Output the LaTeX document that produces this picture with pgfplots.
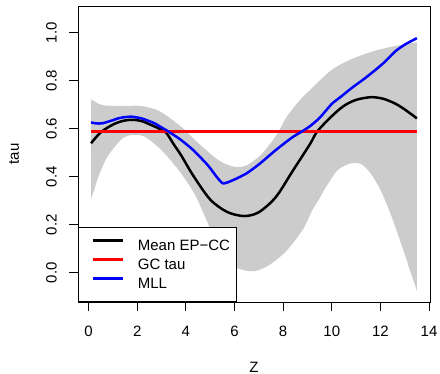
\documentclass[border=0pt]{standalone}
\usepackage{fontspec}
\setmainfont{Liberation Sans}
\usepackage{pgfplots}
\pgfplotsset{compat=1.18}
\usepgfplotslibrary{fillbetween}
\definecolor{bandgray}{HTML}{CCCCCC}
\begin{document}
\fontsize{15}{18}\selectfont
\begin{tikzpicture}
\begin{axis}[
  at={(0,0)}, anchor=south west,
  scale only axis, width=352pt, height=296pt,
  xmin=-0.436, xmax=14.04, ymin=-0.122, ymax=1.111,
  axis line style={line width=0.8pt},
  xtick={0,2,4,6,8,10,12,14}, ytick={0,0.2,0.4,0.6,0.8,1.0},
  yticklabel={\pgfmathprintnumber[fixed,fixed zerofill,precision=1]{\tick}},
  /pgf/number format/assume math mode=true,
  tick align=outside, xtick pos=bottom, ytick pos=left,
  major tick length=9pt,
  tick style={line width=0.8pt, black},
  xticklabel shift=10pt, yticklabel shift=7pt,
  xticklabel style={anchor=north, font=\fontsize{15}{18}\selectfont},
  yticklabel style={rotate=90, anchor=south, font=\fontsize{15}{18}\selectfont},
  xlabel={Z}, ylabel={tau},
  xlabel style={at={(axis description cs:0.5,-0.2196)}, anchor=center, font=\fontsize{15}{18}\selectfont},
  ylabel style={at={(axis description cs:-0.1818,0.5)}, anchor=center, rotate=0, font=\fontsize{15}{18}\selectfont},
  legend style={at={(0,0)}, anchor=south west, draw=black, line width=0.8pt,
    inner xsep=6pt, inner ysep=9.6pt, row sep=2pt, column sep=14pt,
    font=\fontsize{15}{18}\selectfont,
    nodes={inner sep=0pt, text height=14pt, text depth=3pt}},
  legend image code/.code={\path (0pt,0pt); \draw[#1] (7pt,5pt) -- (37pt,5pt);},
  legend cell align=left,
]
\addplot[name path=up, draw=none, smooth, tension=0.5, forget plot] coordinates {
(0.1,0.722) (0.5,0.700) (0.9,0.695) (1.5,0.695) (2.1,0.695) (2.6,0.685) (2.95,0.671)
(3.4,0.640) (3.9,0.600) (4.4,0.550) (4.9,0.505) (5.3,0.472) (5.7,0.450) (6.1,0.440)
(6.5,0.447) (7.05,0.487) (7.45,0.535) (7.8,0.585) (8.15,0.650) (8.7,0.720) (9.2,0.770)
(9.5,0.800) (10.0,0.845) (10.6,0.880) (11.2,0.905) (11.8,0.925) (12.5,0.942) (13.5,0.960)};
\addplot[name path=lo, draw=none, smooth, tension=0.5, forget plot] coordinates {
(0.1,0.310) (0.2,0.335) (0.4,0.400) (0.7,0.470) (1.0,0.515) (1.4,0.560) (1.8,0.574)
(2.3,0.567) (2.9,0.520) (3.4,0.465) (3.9,0.400) (4.4,0.320) (4.8,0.230) (5.2,0.140)
(5.6,0.065) (6.0,0.025) (6.5,0.008) (6.9,0.008) (7.4,0.030) (8.1,0.087) (8.8,0.178)
(9.2,0.260) (9.5,0.310) (9.75,0.355) (10.25,0.428) (10.8,0.456) (11.2,0.453) (11.6,0.414)
(12.0,0.345) (12.4,0.250) (12.85,0.122) (13.25,0.000) (13.5,-0.075)};
\addplot[bandgray, forget plot] fill between[of=up and lo];
\addplot[black, line width=2.5pt, smooth, tension=0.5] coordinates {
(0.1,0.539) (0.5,0.585) (1.0,0.617) (1.4,0.632) (1.8,0.637) (2.2,0.631) (2.6,0.614)
(2.95,0.598) (3.2,0.582) (3.5,0.535) (3.8,0.490) (4.3,0.405) (5.0,0.305) (5.7,0.253)
(6.4,0.236) (7.0,0.252) (7.7,0.315) (8.4,0.425) (9.1,0.535) (9.4,0.588) (10.0,0.652)
(10.5,0.695) (11.0,0.720) (11.6,0.731) (12.1,0.725) (12.6,0.705) (13.0,0.680) (13.5,0.643)};
\addlegendentry{Mean EP−CC}
\addplot[red, line width=2.5pt] coordinates {(0.1,0.5875) (13.5,0.5875)};
\addlegendentry{GC tau}
\addplot[blue, line width=2.5pt, smooth, tension=0.4] coordinates {
(0.1,0.626) (0.3,0.622) (0.55,0.622) (0.9,0.632) (1.3,0.645) (1.75,0.650) (2.2,0.642)
(2.7,0.623) (2.95,0.608) (3.3,0.587) (3.8,0.553) (4.3,0.511) (4.9,0.448) (5.3,0.395)
(5.54,0.372) (5.95,0.386) (6.5,0.414) (7.05,0.455) (7.7,0.511) (8.35,0.562) (8.75,0.587)
(9.1,0.610) (9.5,0.645) (10.0,0.703) (10.4,0.735) (10.8,0.768) (11.3,0.805) (11.8,0.845)
(12.2,0.880) (12.6,0.921) (13.0,0.950) (13.5,0.977)};
\addlegendentry{MLL}
\end{axis}
\pgfresetboundingbox
\path[use as bounding box] (-78pt,-72pt) rectangle (362pt,302pt);
\end{tikzpicture}
\end{document}
